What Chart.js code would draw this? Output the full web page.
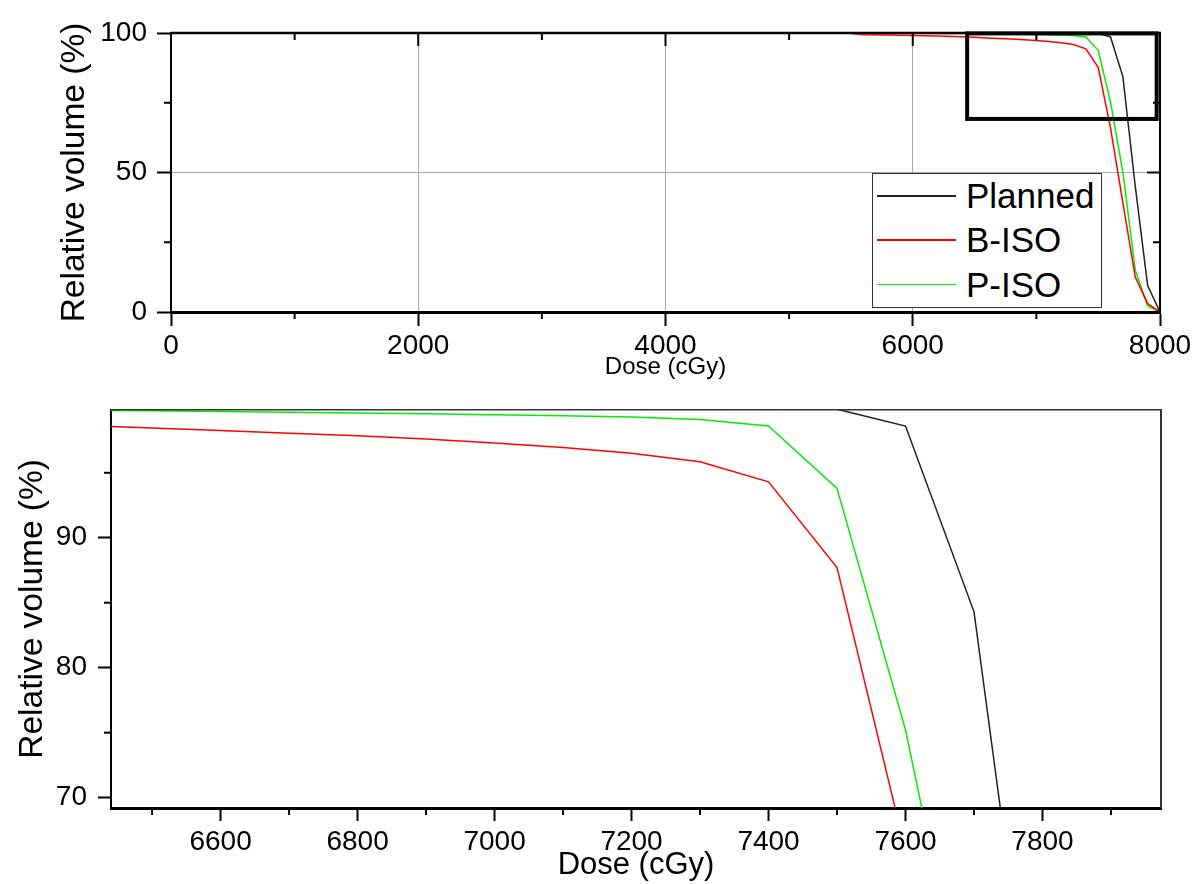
<!DOCTYPE html>
<html>
<head>
<meta charset="utf-8">
<script src="https://cdn.jsdelivr.net/npm/chart.js@4"></script>
<style>
  html, body { margin: 0; padding: 0; background: #fff; }
  #wrap { position: relative; width: 1195px; height: 884px; font-family: "Liberation Sans", Arial, sans-serif; }
  #wrap canvas { position: absolute; left: 0; }
  #top { top: 0; }
  #bottom { top: 382px; }
  .legend { position: absolute; left: 872px; top: 173px; width: 228px; height: 133px;
            border: 1.5px solid #333; background: #fff; }
  .legend .row { position: absolute; left: 0; width: 228px; height: 40px; }
  .legend .swatch { position: absolute; left: 4px; width: 79px; height: 1.5px; top: 19px; }
  .legend .lbl { position: absolute; left: 93px; top: 0; font-size: 35px; line-height: 40px; color: #000; white-space: nowrap; }
</style>
</head>
<body>
<div id="wrap">
  <canvas id="top" width="1195" height="382"></canvas>
  <canvas id="bottom" width="1195" height="502"></canvas>
  <div class="legend" id="legend"></div>
</div>
<script>
// DVH data (dose in cGy, relative volume in %)
const DOSE    = [0, 5500, 5600, 5800, 6000, 6200, 6400, 6500, 6600, 6700, 6800, 6900, 7000, 7100, 7200, 7300, 7400, 7500, 7600, 7700, 7800, 7900, 8000];
const PLANNED = [100, 100, 100, 100, 100, 100, 100, 100, 100, 100, 100, 100, 100, 100, 100, 100, 100, 99.9, 98.6, 84.3, 45, 9.5, 0];
const B_ISO   = [100, 99.95, 99.4, 99.3, 99.1, 98.9, 98.65, 98.45, 98.25, 98.05, 97.85, 97.6, 97.3, 96.95, 96.5, 95.85, 94.3, 87.7, 65.9, 39, 12.5, 3, 0];
const P_ISO   = [100, 100, 100, 99.95, 99.9, 99.85, 99.8, 99.78, 99.72, 99.66, 99.6, 99.55, 99.47, 99.4, 99.3, 99.1, 98.6, 93.8, 75.2, 50, 15, 2.2, 0];

const SERIES_NAMES  = ['Planned', 'B-ISO', 'P-ISO'];
const SERIES_COLORS = ['#222222', '#ff0000', '#00ee00'];

// overview axes
const TOP_X_TICKS = [0, 2000, 4000, 6000, 8000];
const TOP_X_MINOR = [1000, 3000, 5000, 7000];
const TOP_Y_TICKS = [0, 50, 100];
const TOP_Y_MINOR = [25, 75];

// zoomed region (also the box drawn on the overview)
const ZOOM_DOSE = [6440, 7973];
const ZOOM_VOL  = [69.2, 99.85];
const BOT_X_TICKS = [6600, 6800, 7000, 7200, 7400, 7600, 7800];
const BOT_X_MINOR = [6500, 6700, 6900, 7100, 7300, 7500, 7700, 7900];
const BOT_Y_TICKS = [70, 80, 90];
const BOT_Y_MINOR = [75, 85, 95];

const FONT = '"Liberation Sans", Arial, sans-serif';

function buildDatasets() {
  return [PLANNED, B_ISO, P_ISO].map(function(vals, i) {
    return {
      label: SERIES_NAMES[i],
      data: DOSE.map(function(d, j) { return { x: d, y: vals[j] }; }),
      borderColor: SERIES_COLORS[i],
      borderWidth: 1.5,
      pointRadius: 0,
      tension: 0,
      fill: false
    };
  });
}

// top/right frame, minor ticks, mirrored ticks, zoom box
const framePlugin = {
  id: 'frame',
  afterDraw: function(chart, args, o) {
    const ctx = chart.ctx, a = chart.chartArea, x = chart.scales.x, y = chart.scales.y;
    function seg(x1, y1, x2, y2) { ctx.beginPath(); ctx.moveTo(x1, y1); ctx.lineTo(x2, y2); ctx.stroke(); }
    ctx.save();
    ctx.strokeStyle = o.frameColor;
    ctx.lineWidth = o.topWidth;
    seg(a.left, a.top, a.right + 1, a.top);
    ctx.lineWidth = o.rightWidth;
    seg(a.right, a.top, a.right, a.bottom);

    ctx.strokeStyle = '#000';
    ctx.lineWidth = 2;
    o.minorX.forEach(function(v) { const p = x.getPixelForValue(v); seg(p, a.bottom, p, a.bottom + 7); });
    o.minorY.forEach(function(v) { const p = y.getPixelForValue(v); seg(a.left - 7, p, a.left, p); });

    if (o.mirror) {
      o.majorX.forEach(function(v) { const p = x.getPixelForValue(v); seg(p, a.top, p, a.top + 13); });
      o.minorX.forEach(function(v) { const p = x.getPixelForValue(v); seg(p, a.top, p, a.top + 7); });
      o.majorY.forEach(function(v) { const p = y.getPixelForValue(v); seg(a.right - 13, p, a.right, p); });
      o.minorY.forEach(function(v) { const p = y.getPixelForValue(v); seg(a.right - 7, p, a.right, p); });
    }

    if (o.box) {
      ctx.lineWidth = 4;
      const x1 = x.getPixelForValue(ZOOM_DOSE[0]), x2 = x.getPixelForValue(ZOOM_DOSE[1]);
      const y1 = y.getPixelForValue(ZOOM_VOL[1]), y2 = y.getPixelForValue(ZOOM_VOL[0]);
      ctx.strokeRect(x1, y1, x2 - x1, y2 - y1);
    }
    ctx.restore();
  }
};

function setTicks(list) {
  return function(scale) { scale.ticks = list.map(function(v) { return { value: v }; }); };
}
function plain(v) { return String(v); }

// overview chart
new Chart(document.getElementById('top'), {
  type: 'line',
  data: { datasets: buildDatasets() },
  plugins: [framePlugin],
  options: {
    responsive: false,
    animation: false,
    layout: { padding: { top: 33, right: 35, left: 0, bottom: 0 } },
    plugins: {
      legend: { display: false },
      tooltip: { enabled: false },
      frame: { frameColor: '#000', topWidth: 2.5, rightWidth: 2, mirror: true, box: true,
               majorX: TOP_X_TICKS, minorX: TOP_X_MINOR, majorY: TOP_Y_TICKS, minorY: TOP_Y_MINOR }
    },
    scales: {
      x: {
        type: 'linear', min: 0, max: 8000,
        afterBuildTicks: setTicks(TOP_X_TICKS),
        afterFit: function(s) { s.height = 70; },
        grid: { color: '#a6a6a6', lineWidth: 1, tickLength: 14, tickColor: '#000', tickWidth: 2 },
        border: { display: true, color: '#000', width: 3 },
        ticks: { color: '#000', padding: 3, maxRotation: 0, callback: plain, font: { family: FONT, size: 28 } },
        title: { display: true, text: 'Dose (cGy)', color: '#000', padding: { top: 0, bottom: 0 },
                 font: { family: FONT, size: 24 } }
      },
      y: {
        min: 0, max: 100,
        afterBuildTicks: setTicks(TOP_Y_TICKS),
        afterFit: function(s) { s.width = 171; },
        grid: { color: '#a6a6a6', lineWidth: 1, tickLength: 14, tickColor: '#000', tickWidth: 2 },
        border: { display: true, color: '#000', width: 2 },
        ticks: { color: '#000', padding: 10, callback: plain, font: { family: FONT, size: 28 } },
        title: { display: true, text: 'Relative volume (%)', color: '#000', padding: { top: 55, bottom: 0 },
                 font: { family: FONT, size: 33.5 } }
      }
    }
  }
});

// zoomed chart
new Chart(document.getElementById('bottom'), {
  type: 'line',
  data: { datasets: buildDatasets() },
  plugins: [framePlugin],
  options: {
    responsive: false,
    animation: false,
    layout: { padding: { top: 4, right: 34, left: 0, bottom: 0 } },
    plugins: {
      legend: { display: false },
      tooltip: { enabled: false },
      frame: { frameColor: '#333', topWidth: 1.5, rightWidth: 2, mirror: false, box: false,
               majorX: BOT_X_TICKS, minorX: BOT_X_MINOR, majorY: BOT_Y_TICKS, minorY: BOT_Y_MINOR }
    },
    scales: {
      x: {
        type: 'linear', min: ZOOM_DOSE[0], max: ZOOM_DOSE[1],
        afterBuildTicks: setTicks(BOT_X_TICKS),
        afterFit: function(s) { s.height = 76; },
        grid: { drawOnChartArea: false, tickLength: 13, tickColor: '#000', tickWidth: 2 },
        border: { display: true, color: '#000', width: 3 },
        ticks: { color: '#000', padding: 4, maxRotation: 0, callback: plain, font: { family: FONT, size: 28 } },
        title: { display: true, text: 'Dose (cGy)', color: '#000', padding: { top: 0, bottom: 0 },
                 font: { family: FONT, size: 31 } }
      },
      y: {
        min: ZOOM_VOL[0], max: ZOOM_VOL[1],
        afterBuildTicks: setTicks(BOT_Y_TICKS),
        afterFit: function(s) { s.width = 111; },
        grid: { drawOnChartArea: false, tickLength: 13, tickColor: '#000', tickWidth: 2 },
        border: { display: true, color: '#000', width: 2 },
        ticks: { color: '#000', padding: 11, callback: plain, font: { family: FONT, size: 28 } },
        title: { display: true, text: 'Relative volume (%)', color: '#000', padding: { top: 13, bottom: 0 },
                 font: { family: FONT, size: 33.5 } }
      }
    }
  }
});

// legend box on the overview
var legend = document.getElementById('legend');
SERIES_NAMES.forEach(function(name, i) {
  var row = document.createElement('div');
  row.className = 'row';
  row.style.top = (2 + i * 44.3) + 'px';
  row.innerHTML = '<div class="swatch" style="background:' + SERIES_COLORS[i] + '"></div>' +
                  '<div class="lbl">' + name + '</div>';
  legend.appendChild(row);
});
</script>
</body>
</html>
